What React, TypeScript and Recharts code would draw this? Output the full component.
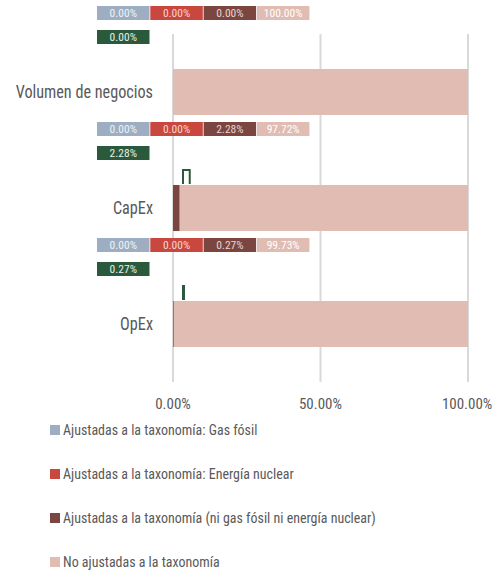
import React from 'react';
import { BarChart, Bar, XAxis, YAxis, CartesianGrid } from 'recharts';

const categories = ['Volumen de negocios', 'CapEx', 'OpEx'];
const gasFosil = [0, 0, 0];
const nuclear = [0, 0, 0];
const niGasNiNuclear = [0, 0.0228, 0.0027];
const noAjustadas = [1, 0.9772, 0.9973];
const totalAjustadas = [0, 0.0228, 0.0027];
const xTicks = [0, 0.5, 1];

const seriesNames = [
  'Ajustadas a la taxonomía: Gas fósil',
  'Ajustadas a la taxonomía: Energía nuclear',
  'Ajustadas a la taxonomía (ni gas fósil ni energía nuclear)',
  'No ajustadas a la taxonomía',
];
const colors = ['#9DAEC2', '#C8473F', '#7B463F', '#E0BCB2'];
const green = '#2A5A3B';

const FONT = '"Liberation Sans Narrow", "Roboto Condensed", Roboto, sans-serif';
const W = 494;
const H = 420;
const MARGIN = { top: 34, right: 26, left: 0, bottom: 0 };
const YAXIS_W = 173;
const PLOT_LEFT = MARGIN.left + YAXIS_W;
const PLOT_W = W - PLOT_LEFT - MARGIN.right;

const data = categories.map((name, i) => ({
  name,
  gas: gasFosil[i],
  nuclear: nuclear[i],
  ni: niGasNiNuclear[i],
  no: noAjustadas[i],
  total: totalAjustadas[i],
}));

const pct = (v: number) => (v * 100).toFixed(2) + '%';

function CatTick({ x, y, payload }: any) {
  return (
    <text
      transform={`translate(${x},${y}) scale(0.9,1)`}
      textAnchor="end"
      dy="0.36em"
      fontSize={18}
      fontFamily={FONT}
      fill="#595959"
    >
      {payload.value}
    </text>
  );
}

// last segment draws the bar plus the value boxes and the aligned marker above it
function NoShape(props: any) {
  const { x, y, width, height, payload } = props;
  const vals = [payload.gas, payload.nuclear, payload.ni, payload.no];
  const boxW = 52.5;
  const boxX = PLOT_LEFT - 76;
  const rowY = y - 63;
  const textFill = ['#EEF2F6', '#F6D6D2', '#E9D3CF', '#FFFFFF'];
  const mW = Math.max(payload.total * PLOT_W, 1);
  const mx = PLOT_LEFT + 10;
  return (
    <g>
      <rect x={x} y={y} width={width} height={height} fill={colors[3]} />
      {vals.map((v: number, k: number) => (
        <g key={k}>
          <rect x={boxX + k * 53.3} y={rowY} width={boxW} height={14} fill={colors[k]} />
          <text
            x={boxX + k * 53.3 + boxW / 2}
            y={rowY + 11}
            textAnchor="middle"
            fontSize={11.5}
            fontFamily={FONT}
            fill={textFill[k]}
          >
            {pct(v)}
          </text>
        </g>
      ))}
      <rect x={boxX} y={y - 39} width={boxW} height={14} fill={green} />
      <text x={boxX + boxW / 2} y={y - 28} textAnchor="middle" fontSize={11.5} fontFamily={FONT} fill="#E8EFEA">
        {pct(payload.total)}
      </text>
      {payload.total > 0 && (
        <path
          d={`M${mx},${y - 1} V${y - 15} H${mx + mW} V${y - 1}`}
          fill="none"
          stroke={green}
          strokeWidth={2}
        />
      )}
    </g>
  );
}

export default function App() {
  return (
    <div style={{ position: 'absolute', left: 0, top: 0, width: W, height: 577, background: '#fff' }}>
      <BarChart width={W} height={H} data={data} layout="vertical" margin={MARGIN} barSize={46}>
        <CartesianGrid horizontal={false} vertical stroke="#D9D9D9" strokeWidth={2} />
        <XAxis
          type="number"
          domain={[0, 1]}
          ticks={xTicks}
          tickFormatter={pct}
          axisLine={false}
          tickLine={false}
          tickMargin={10}
          height={38}
          tick={{ fontSize: 15, fontFamily: FONT, fill: '#595959' }}
        />
        <YAxis
          type="category"
          dataKey="name"
          width={YAXIS_W}
          axisLine={false}
          tickLine={false}
          tickSize={0}
          tickMargin={20}
          tick={CatTick}
        />
        <Bar dataKey="gas" stackId="a" fill={colors[0]} isAnimationActive={false} />
        <Bar dataKey="nuclear" stackId="a" fill={colors[1]} isAnimationActive={false} />
        <Bar dataKey="ni" stackId="a" fill={colors[2]} isAnimationActive={false} />
        <Bar dataKey="no" stackId="a" fill={colors[3]} shape={NoShape} isAnimationActive={false} />
      </BarChart>
      <div style={{ position: 'absolute', left: 50, top: 421, fontFamily: FONT, fontSize: 15, color: '#595959' }}>
        {seriesNames.map((n, i) => (
          <div key={n} style={{ display: 'flex', alignItems: 'center', height: 18, marginBottom: 26 }}>
            <span style={{ width: 10, height: 10, background: colors[i], marginRight: 3, display: 'inline-block', flex: 'none' }} />
            <span style={{ display: 'inline-block', transform: 'scaleX(0.93)', transformOrigin: 'left center', whiteSpace: 'nowrap' }}>{n}</span>
          </div>
        ))}
      </div>
    </div>
  );
}
